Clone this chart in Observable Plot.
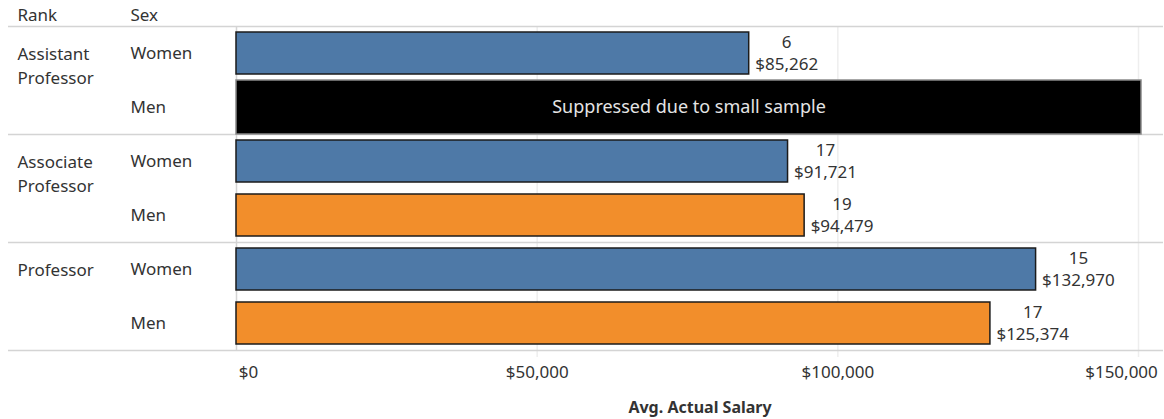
<!DOCTYPE html>
<html><head><meta charset="utf-8">
<script src="https://cdn.jsdelivr.net/npm/d3@7"></script>
<script src="https://cdn.jsdelivr.net/npm/@observablehq/plot@0.6"></script>
<style>body{margin:0;background:#fff;} svg{display:block;}</style>
</head><body><div id="chart"></div>
<script>
const ranks = ["Assistant Professor", "Associate Professor", "Professor"];
const rankLabels = ["Assistant\nProfessor", "Associate\nProfessor", "Professor"];
const sexes = ["Women", "Men"];
// per rank: [Women, Men]; null = suppressed
const counts = [[6, null], [17, 19], [15, 17]];
const salaries = [[85262, null], [91721, 94479], [132970, 125374]];
const suppressedNote = "Suppressed due to small sample";
const suppressedBarValue = 150500;
const xTicks = [0, 50000, 100000, 150000];
const xTitle = "Avg. Actual Salary";
const headers = ["Rank", "Sex"];
const colors = {Women: "#4e79a7", Men: "#f28e2b"};

const rows = ranks.flatMap((r, i) => sexes.map((s, j) => ({
  rank: r, rankLabel: rankLabels[i], sex: s, key: r + "|" + s,
  count: counts[i][j], salary: salaries[i][j], first: j === 0, last: j === sexes.length - 1
})));
const shown = rows.filter(d => d.salary != null);
const hidden = rows.filter(d => d.salary == null);
const fmt = d3.format("$,");
const txt = "#333";

const chart = Plot.plot({
  width: 1164, height: 419,
  marginTop: 26, marginBottom: 69, marginLeft: 236, marginRight: 1,
  style: {fontFamily: "Noto Sans", fontSize: "17px", background: "#fff"},
  x: {axis: null, domain: [0, 150000], range: [236, 1138]},
  y: {axis: null, domain: rows.map(d => d.key), range: [26, 350], paddingInner: 0.22, paddingOuter: 0.11},
  marks: [
    Plot.ruleX(xTicks.slice(1), {stroke: "#eeeeee", strokeWidth: 1.5, insetBottom: -7}),
    Plot.ruleX([0], {stroke: "#d4d4d4", strokeWidth: 1.5}),
    Plot.ruleY(rows.filter(d => d.first), {y: "key", dy: -27, stroke: "#d4d4d4", strokeWidth: 1.5, insetLeft: -228}),
    Plot.ruleY(rows.filter(d => d.last && d.rank === ranks[ranks.length - 1]), {y: "key", dy: 27, stroke: "#d4d4d4", strokeWidth: 1.5, insetLeft: -228}),
    Plot.barX(shown, {x: "salary", y: "key", fill: d => colors[d.sex], stroke: "#1b1b1b", strokeWidth: 1.5}),
    Plot.barX(hidden, {x1: 0, x2: () => suppressedBarValue, y: "key", fill: "#000", stroke: "#8a8a8a", strokeWidth: 1.5, insetTop: -6, insetBottom: -6}),
    Plot.text(hidden, {x: () => suppressedBarValue / 2, y: "key", text: () => suppressedNote, fill: "#e4e4e4", fontSize: 18}),
    Plot.text(shown, {x: "salary", y: "key", text: d => String(d.count), textAnchor: "middle", dx: 6, dy: -11, fill: txt, ariaLabel: d => "cnt " + d.key}),
    Plot.text(shown, {x: "salary", y: "key", text: d => fmt(d.salary), textAnchor: "start", dx: 6, dy: 11, fill: txt, ariaLabel: d => "sal " + d.key}),
    Plot.text(rows, {y: "key", text: "sex", frameAnchor: "left", textAnchor: "start", lineAnchor: "middle", dx: -106, fill: txt}),
    Plot.text(rows.filter(d => d.first), {y: "key", text: "rankLabel", frameAnchor: "left", textAnchor: "start", lineAnchor: "top", lineHeight: 1.4, dx: -219, dy: -10, fill: txt}),
    Plot.text([headers[0]], {text: d => d, frameAnchor: "top-left", textAnchor: "start", lineAnchor: "middle", dx: -219, dy: -11, fill: txt}),
    Plot.text([headers[1]], {text: d => d, frameAnchor: "top-left", textAnchor: "start", lineAnchor: "middle", dx: -106, dy: -11, fill: txt}),
    Plot.text(xTicks.slice(1, -1), {x: d => d, text: d => fmt(d), frameAnchor: "bottom", lineAnchor: "middle", dy: 22, fill: txt}),
    Plot.text(xTicks.slice(0, 1), {x: d => d, text: d => fmt(d), frameAnchor: "bottom", lineAnchor: "middle", dy: 22, dx: 12, fill: txt}),
    Plot.text(xTicks.slice(-1), {x: d => d, text: d => fmt(d), frameAnchor: "bottom", lineAnchor: "middle", dy: 22, dx: -17, fill: txt}),
    Plot.text([xTitle], {text: d => d, frameAnchor: "bottom", lineAnchor: "middle", dy: 57, fontWeight: "bold", fontSize: 16, fill: txt})
  ]
});
document.getElementById("chart").append(chart);
let countTexts = Array.from(chart.querySelectorAll('text[aria-label^="cnt "]'));
let salaryTexts = Array.from(chart.querySelectorAll('text[aria-label^="sal "]'));
if (!countTexts.length) {
  const groups = chart.querySelectorAll('g[aria-label="text"]');
  countTexts = Array.from(groups[1].querySelectorAll("text"));
  salaryTexts = Array.from(groups[2].querySelectorAll("text"));
}
countTexts.forEach((el, i) => {
  const w = salaryTexts[i].getComputedTextLength();
  const t = el.getAttribute("transform") || "";
  el.setAttribute("transform", (t + ` translate(${w / 2},0)`).trim());
});
</script>
</body></html>
